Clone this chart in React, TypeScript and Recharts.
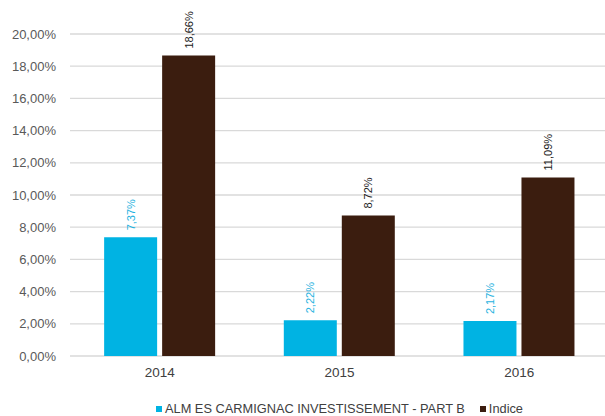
import React from 'react';
import {
  BarChart,
  Bar,
  XAxis,
  YAxis,
  CartesianGrid,
  Legend,
  LabelList,
} from 'recharts';

const years = ['2014', '2015', '2016'];
const fundReturns = [7.37, 2.22, 2.17];
const indexReturns = [18.66, 8.72, 11.09];
const yTicks = [0, 2, 4, 6, 8, 10, 12, 14, 16, 18, 20];

const FUND_NAME = 'ALM ES CARMIGNAC INVESTISSEMENT - PART B';
const INDEX_NAME = 'Indice';
const CYAN = '#00b3e3';
const BROWN = '#3b1d0f';
const FONT = '"Liberation Sans", Arial, sans-serif';

const data = years.map((year, i) => ({
  year,
  fund: fundReturns[i],
  index: indexReturns[i],
}));

// french style percent: 7,37%
const pct = (v: number) => v.toFixed(2).replace('.', ',') + '%';

const makeLabel = (color: string) => (props: any) => {
  const { x, y, width, value } = props;
  const cx = Number(x) + Number(width) / 2;
  const ty = Number(y) - 7;
  return (
    <text
      x={cx}
      y={ty}
      transform={`rotate(-90, ${cx}, ${ty})`}
      textAnchor="start"
      dominantBaseline="central"
      fontFamily={FONT}
      fontSize={11}
      fill={color}
    >
      {pct(Number(value))}
    </text>
  );
};

const LegendContent = () => {
  const items = [
    { name: FUND_NAME, color: CYAN },
    { name: INDEX_NAME, color: BROWN },
  ];
  return (
    <div
      style={{
        display: 'flex',
        justifyContent: 'center',
        alignItems: 'center',
        height: 14,
        lineHeight: '14px',
        fontFamily: FONT,
        fontSize: 12.8,
        color: '#404040',
      }}
    >
      {items.map((it, i) => (
        <span
          key={it.name}
          style={{ display: 'flex', alignItems: 'center', marginLeft: i ? 15 : 0 }}
        >
          <span
            style={{ width: 6, height: 6, background: it.color, marginRight: 3, display: 'inline-block' }}
          />
          {it.name}
        </span>
      ))}
    </div>
  );
};

export default function App() {
  return (
    <div style={{ position: 'absolute', left: 0, top: 0, width: 605, height: 416, overflow: 'hidden', background: '#fff' }}>
      <BarChart
        width={610}
        height={416}
        data={data}
        margin={{ top: 34, right: 1, left: 0, bottom: 0 }}
        barCategoryGap="19%"
        barGap={5}
      >
        <CartesianGrid vertical={false} stroke="#d9d9d9" strokeWidth={1.3} />
        <XAxis
          dataKey="year"
          axisLine={false}
          tickLine={false}
          height={46}
          tickMargin={5}
          tick={{ fontFamily: FONT, fontSize: 13.5, fill: '#404040' }}
        />
        <YAxis
          width={70}
          domain={[0, 20]}
          ticks={yTicks}
          axisLine={false}
          tickLine={false}
          tickMargin={8}
          tickFormatter={pct}
          tick={{ fontFamily: FONT, fontSize: 13, fill: '#595959' }}
        />
        <Legend
          verticalAlign="bottom"
          content={<LegendContent />}
          wrapperStyle={{ left: 70, width: 539 }}
        />
        <Bar dataKey="fund" name={FUND_NAME} fill={CYAN} isAnimationActive={false}>
          <LabelList dataKey="fund" content={makeLabel('#1fb2e0')} />
        </Bar>
        <Bar dataKey="index" name={INDEX_NAME} fill={BROWN} isAnimationActive={false}>
          <LabelList dataKey="index" content={makeLabel('#1a1a1a')} />
        </Bar>
      </BarChart>
    </div>
  );
}
